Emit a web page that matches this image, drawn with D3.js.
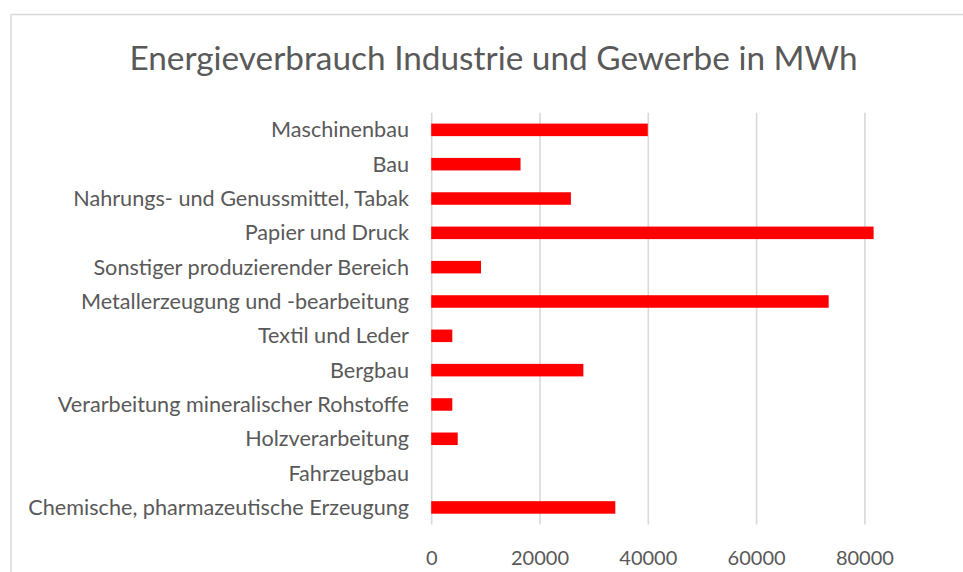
<!DOCTYPE html>
<html>
<head>
<meta charset="utf-8">
<script src="https://cdn.jsdelivr.net/npm/d3@7"></script>
<style>
html,body{margin:0;padding:0;background:#fff;}
svg{display:block;}
text{font-family:Lato,"Open Sans",sans-serif;fill:#595959;}
</style>
</head>
<body>
<svg id="chart" width="963" height="572"></svg>
<script>
const title = "Energieverbrauch Industrie und Gewerbe in MWh";
const categories = [
  "Maschinenbau",
  "Bau",
  "Nahrungs- und Genussmittel, Tabak",
  "Papier und Druck",
  "Sonstiger produzierender Bereich",
  "Metallerzeugung und -bearbeitung",
  "Textil und Leder",
  "Bergbau",
  "Verarbeitung mineralischer Rohstoffe",
  "Holzverarbeitung",
  "Fahrzeugbau",
  "Chemische, pharmazeutische Erzeugung"
];
const values = [40000, 16500, 25800, 81700, 9200, 73400, 3900, 28100, 3900, 4900, 0, 34000];
const tickValues = [0, 20000, 40000, 60000, 80000];

const svg = d3.select("#chart");

// chart area border (cropped at right/bottom)
svg.append("rect")
  .attr("x", 11).attr("y", 14.5)
  .attr("width", 1200).attr("height", 1000)
  .attr("fill", "none").attr("stroke", "#d9d9d9").attr("stroke-width", 1.5);

const x = d3.scaleLinear().domain([0, 100000]).range([431.2, 972.7]);
const y = d3.scaleBand().domain(categories).range([112.7, 524.6])
  .paddingInner(0.635).paddingOuter(0.3175);

function fitText(sel, targetWidth, startSize) {
  sel.attr("font-size", startSize);
  const w = sel.node().getComputedTextLength();
  sel.attr("font-size", startSize * targetWidth / w);
}

// title
const t = svg.append("text")
  .attr("x", (129.3 + 857.7) / 2).attr("y", 70)
  .attr("text-anchor", "middle")
  .text(title);
fitText(t, 728.4, 30);

// gridlines
const grid = d3.axisBottom(x).tickValues(tickValues)
  .tickSize(-(524.6 - 112.7)).tickFormat("");
svg.append("g")
  .attr("transform", "translate(0,524.6)")
  .call(grid)
  .call(g => g.select(".domain").remove())
  .call(g => g.selectAll("line").attr("stroke", "#d9d9d9").attr("stroke-width", 1.6));

// x tick labels
const xAxis = d3.axisBottom(x).tickValues(tickValues).tickSize(0).tickPadding(0)
  .tickFormat(d3.format("d"));
const xg = svg.append("g")
  .attr("transform", "translate(0,565)")
  .call(xAxis);
xg.select(".domain").remove();
xg.selectAll("text").attr("dy", 0).attr("font-family", "Lato,'Open Sans',sans-serif").attr("fill", "#595959");
// fit tick font
const probe = xg.selectAll("text").filter(d => d === 20000);
probe.attr("font-size", 20);
const tw = probe.node().getComputedTextLength();
xg.selectAll("text").attr("font-size", 20 * 58 / tw);

// bars
svg.append("g").selectAll("rect")
  .data(categories)
  .join("rect")
  .attr("x", x(0))
  .attr("y", d => y(d))
  .attr("width", (d, i) => x(values[i]) - x(0))
  .attr("height", y.bandwidth())
  .attr("fill", "#ff0000");

// category labels
const yAxis = d3.axisLeft(y).tickSize(0).tickPadding(0);
const yg = svg.append("g")
  .attr("transform", "translate(409,0)")
  .call(yAxis);
yg.select(".domain").remove();
yg.selectAll("text").attr("font-family", "Lato,'Open Sans',sans-serif").attr("fill", "#595959").attr("dy", "0.35em");
const longest = yg.selectAll("text").filter(d => d === "Chemische, pharmazeutische Erzeugung");
longest.attr("font-size", 20);
const lw = longest.node().getComputedTextLength();
yg.selectAll("text").attr("font-size", 20 * 381 / lw);
</script>
</body>
</html>
